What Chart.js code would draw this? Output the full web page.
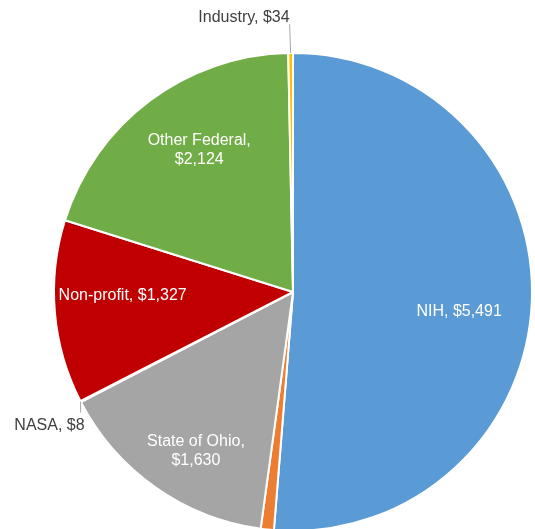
<!DOCTYPE html>
<html>
<head>
<meta charset="utf-8">
<script src="https://cdn.jsdelivr.net/npm/chart.js@4/dist/chart.umd.min.js"></script>
<style>
  html, body { margin: 0; padding: 0; background: #fff; overflow: hidden; }
  #wrap { position: relative; width: 535px; height: 575px; }
</style>
</head>
<body>
<div id="wrap"><canvas id="fundingChart"></canvas></div>
<script>
const sources = ['NIH', 'Other', 'State of Ohio', 'NASA', 'Non-profit', 'Other Federal', 'Industry'];
const amounts = [5491, 95, 1630, 8, 1327, 2124, 34];
const sliceColors = ['#5B9BD5', '#ED7D31', '#A5A5A5', '#264478', '#C00000', '#70AD47', '#FFC000'];

// label placement: inside labels sit at a fraction of the radius (plus a small turn, in degrees),
// outside ones get a short leader line
const labelMode   = ['in', 'out', 'in', 'out', 'in', 'in', 'out'];
const labelRadius = [0.70, 1.0, 0.78, 1.0, 0.713, 0.71, 1.0];
const labelTurn   = [4.5, 0, -3.8, 0, 3.6, 3.3, 0];
const leaderLen   = [0, 20, 0, 11, 0, 0, 29];
const labelLines  = [
  ['NIH, $5,491'],
  ['Other, $95'],
  ['State of Ohio,', '$1,630'],
  ['NASA, $8'],
  ['Non-profit, $1,327'],
  ['Other Federal,', '$2,124'],
  ['Industry, $34']
];

const FONT = '16px "Liberation Sans", Arial, sans-serif';

const sliceLabels = {
  id: 'sliceLabels',
  afterDatasetsDraw(chart) {
    const ctx = chart.ctx;
    const meta = chart.getDatasetMeta(0);
    ctx.save();
    ctx.font = FONT;
    meta.data.forEach((arc, i) => {
      const mid = (arc.startAngle + arc.endAngle) / 2;
      const cx = arc.x, cy = arc.y, r = arc.outerRadius;
      const lines = labelLines[i];
      const lh = 19;
      if (labelMode[i] === 'in') {
        const a = mid + labelTurn[i] * Math.PI / 180;
        const x = cx + Math.cos(a) * r * labelRadius[i];
        const y = cy + Math.sin(a) * r * labelRadius[i];
        ctx.fillStyle = '#ffffff';
        ctx.textAlign = 'center';
        ctx.textBaseline = 'middle';
        const top = y - (lines.length - 1) * lh / 2;
        lines.forEach((t, k) => ctx.fillText(t, x, top + k * lh));
      } else {
        const x0 = cx + Math.cos(mid) * r;
        const y0 = cy + Math.sin(mid) * r;
        const up = Math.sin(mid) < 0;
        const x1 = up ? x0 - 1 : x0;
        const y1 = y0 + (up ? -leaderLen[i] : leaderLen[i]);
        ctx.strokeStyle = '#A6A6A6';
        ctx.lineWidth = 1;
        ctx.beginPath();
        ctx.moveTo(x0, y0);
        ctx.lineTo(x1, y1);
        ctx.stroke();
        ctx.fillStyle = '#404040';
        ctx.textAlign = 'right';
        if (up) {
          ctx.textBaseline = 'bottom';
          ctx.fillText(lines[0], x1, y1 + 2);
        } else {
          ctx.textBaseline = 'top';
          ctx.fillText(lines[0], x1 + 4, y1 + 5);
        }
      }
    });
    ctx.restore();
  }
};

new Chart(document.getElementById('fundingChart'), {
  type: 'pie',
  data: {
    labels: sources,
    datasets: [{
      data: amounts,
      backgroundColor: sliceColors,
      borderColor: '#ffffff',
      borderWidth: 2
    }]
  },
  options: {
    responsive: true,
    maintainAspectRatio: false,
    animation: false,
    layout: { padding: { left: 53, right: 2, top: 52, bottom: 43 } },
    plugins: {
      legend: { display: false },
      tooltip: { enabled: false }
    }
  },
  plugins: [sliceLabels]
});
</script>
</body>
</html>
